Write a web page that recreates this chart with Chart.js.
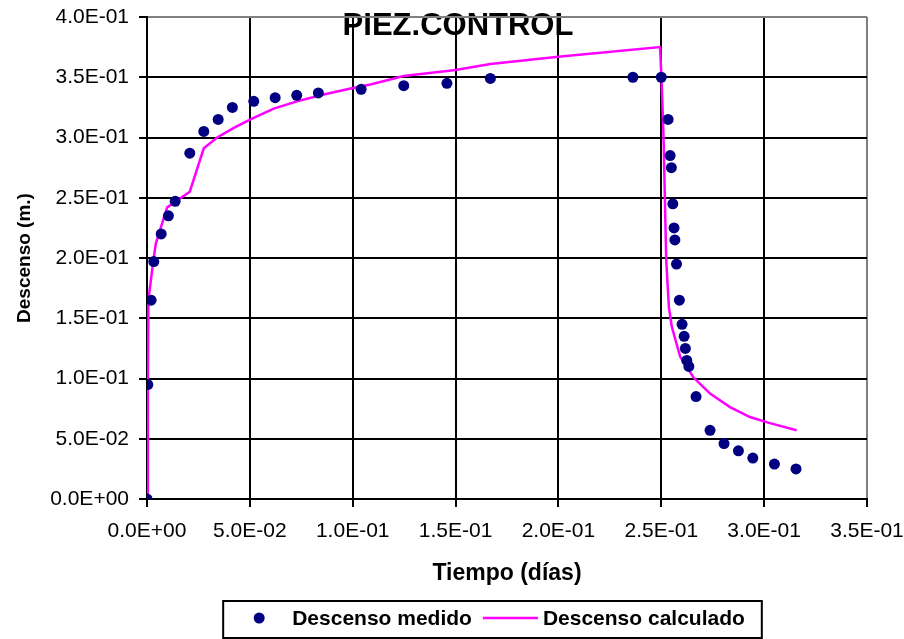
<!DOCTYPE html>
<html>
<head>
<meta charset="utf-8">
<script src="https://cdn.jsdelivr.net/npm/chart.js@4/dist/chart.umd.min.js"></script>
<style>
  body { margin: 0; background: #fff; }
  #wrap { width: 904px; height: 639px; }
</style>
</head>
<body>
<div id="wrap"><canvas id="piezChart" width="904" height="639"></canvas></div>
<script>
// measured drawdown (days, m)
const tiempoMedido = [0, 0.0004, 0.002, 0.0033, 0.0069, 0.0104, 0.0137, 0.0208, 0.0276, 0.0346,
  0.0415, 0.0519, 0.0623, 0.0728, 0.0833, 0.1041, 0.1248, 0.1458, 0.1669, 0.2362,
  0.2500, 0.2533, 0.2543, 0.2549, 0.2556, 0.2562, 0.2566, 0.2574, 0.2588, 0.2601,
  0.2611, 0.2617, 0.2624, 0.2634, 0.2669, 0.2737, 0.2805, 0.2875, 0.2945, 0.3050, 0.3155];
const descensoMedido = [0, 0.095, 0.165, 0.197, 0.220, 0.235, 0.247, 0.287, 0.305, 0.315,
  0.325, 0.330, 0.333, 0.335, 0.337, 0.340, 0.343, 0.345, 0.349, 0.350,
  0.350, 0.315, 0.285, 0.275, 0.245, 0.225, 0.215, 0.195, 0.165, 0.145,
  0.135, 0.125, 0.115, 0.110, 0.085, 0.057, 0.046, 0.040, 0.034, 0.029, 0.025];

// calculated drawdown
const tiempoCalculado = [0, 0.0004, 0.0007, 0.0030, 0.0043, 0.0098, 0.0208, 0.0276, 0.0341, 0.0422,
  0.0503, 0.0616, 0.0729, 0.0843, 0.0973, 0.1086, 0.1248, 0.1500, 0.1669, 0.1999,
  0.2494, 0.2502, 0.2511, 0.2524, 0.2537, 0.2551, 0.2592, 0.2656, 0.2737, 0.2834,
  0.2931, 0.3028, 0.3158];
const descensoCalculado = [0, 0.095, 0.165, 0.197, 0.212, 0.242, 0.255, 0.291, 0.300, 0.308,
  0.315, 0.324, 0.330, 0.335, 0.340, 0.344, 0.351, 0.356, 0.361, 0.367,
  0.375, 0.345, 0.300, 0.198, 0.159, 0.143, 0.118, 0.101, 0.0875, 0.0763,
  0.068, 0.063, 0.057];

const xTicks = { min: 0, max: 0.35, step: 0.05 };
const yTicks = { min: 0, max: 0.4, step: 0.05 };

const FONT = "'Liberation Sans', Arial, sans-serif";
Chart.defaults.font.family = FONT;
Chart.defaults.color = "#000";

function sci(v) {
  if (Math.abs(v) < 1e-12) return "0.0E+00";
  const parts = v.toExponential(1).split("e");
  const n = parseInt(parts[1], 10);
  return parts[0] + "E" + (n < 0 ? "-" : "+") + String(Math.abs(n)).padStart(2, "0");
}

function pairs(xs, ys) {
  return xs.map((x, i) => ({ x: x, y: ys[i] }));
}

const titlePlugin = {
  id: "plotTitle",
  beforeDraw(chart) {
    const ctx = chart.ctx;
    ctx.save();
    ctx.font = "bold 31px " + FONT;
    ctx.fillStyle = "#000";
    ctx.textAlign = "center";
    ctx.textBaseline = "alphabetic";
    ctx.fillText("PIEZ.CONTROL", 458, 35);
    ctx.restore();
  }
};

const legendPlugin = {
  id: "boxLegend",
  afterDraw(chart) {
    const ctx = chart.ctx;
    const ds = chart.data.datasets;
    ctx.save();
    ctx.font = "bold 21px " + FONT;
    const w1 = ctx.measureText(ds[0].label).width;
    const w2 = ctx.measureText(ds[1].label).width;
    const total = 37 + 33 + w1 + 11 + 55 + 5 + w2 + 18;
    const left = 492.5 - total / 2;
    const top = 600;
    ctx.strokeStyle = "#000";
    ctx.lineWidth = 2;
    ctx.strokeRect(left + 1, top + 1, total - 2, 37);

    const cx = left + 37;
    const cy = 618;
    ctx.fillStyle = ds[0].backgroundColor;
    ctx.beginPath();
    ctx.arc(cx, cy, 5.5, 0, Math.PI * 2);
    ctx.fill();

    ctx.fillStyle = "#000";
    ctx.textBaseline = "alphabetic";
    const tx1 = cx + 33;
    ctx.fillText(ds[0].label, tx1, 625);

    const lx = tx1 + w1 + 11;
    ctx.strokeStyle = ds[1].borderColor;
    ctx.lineWidth = 2.5;
    ctx.beginPath();
    ctx.moveTo(lx, cy);
    ctx.lineTo(lx + 55, cy);
    ctx.stroke();

    ctx.fillText(ds[1].label, lx + 55 + 5, 625);
    ctx.restore();
  }
};

new Chart(document.getElementById("piezChart"), {
  type: "scatter",
  data: {
    datasets: [
      {
        label: "Descenso medido",
        data: pairs(tiempoMedido, descensoMedido),
        backgroundColor: "#000080",
        borderColor: "#000080",
        pointRadius: 5.5,
        pointBorderWidth: 0,
        showLine: false,
        order: 1
      },
      {
        label: "Descenso calculado",
        data: pairs(tiempoCalculado, descensoCalculado),
        borderColor: "#FF00FF",
        backgroundColor: "#FF00FF",
        borderWidth: 2.5,
        pointRadius: 0,
        showLine: true,
        tension: 0,
        order: 2
      }
    ]
  },
  options: {
    responsive: false,
    animation: false,
    layout: { padding: { left: 0, right: 37, top: 17, bottom: 0 } },
    plugins: {
      legend: { display: false },
      tooltip: { enabled: false },
      title: { display: false }
    },
    scales: {
      x: {
        type: "linear",
        min: xTicks.min,
        max: xTicks.max,
        afterFit: function(scale) {
          scale.height = 140;
          scale.paddingRight = 0;
          scale.paddingLeft = 0;
        },
        ticks: {
          stepSize: xTicks.step,
          padding: 12,
          font: { size: 21 },
          maxRotation: 0,
          callback: function(value) { return sci(value); }
        },
        grid: {
          lineWidth: 2,
          tickLength: 8,
          tickColor: "#000",
          color: function(c) {
            return c.tick && Math.abs(c.tick.value - xTicks.max) < 1e-9 ? "#808080" : "#000";
          }
        },
        border: { color: "#000", width: 2 },
        title: {
          display: true,
          text: "Tiempo (días)",
          font: { size: 23, weight: "bold" },
          padding: { top: 0, bottom: 52 }
        }
      },
      y: {
        type: "linear",
        min: yTicks.min,
        max: yTicks.max,
        afterFit: function(scale) {
          scale.width = 147;
          scale.paddingTop = 0;
          scale.paddingBottom = 0;
        },
        ticks: {
          stepSize: yTicks.step,
          padding: 10,
          font: { size: 21 },
          callback: function(value) { return sci(value); }
        },
        grid: {
          lineWidth: 2,
          tickLength: 8,
          tickColor: "#000",
          color: function(c) {
            return c.tick && Math.abs(c.tick.value - yTicks.max) < 1e-9 ? "#808080" : "#000";
          }
        },
        border: { color: "#000", width: 2 },
        title: {
          display: true,
          text: "Descenso (m.)",
          font: { size: 19, weight: "bold" },
          padding: { top: 13, bottom: 0 }
        }
      }
    }
  },
  plugins: [titlePlugin, legendPlugin]
});
</script>
</body>
</html>
